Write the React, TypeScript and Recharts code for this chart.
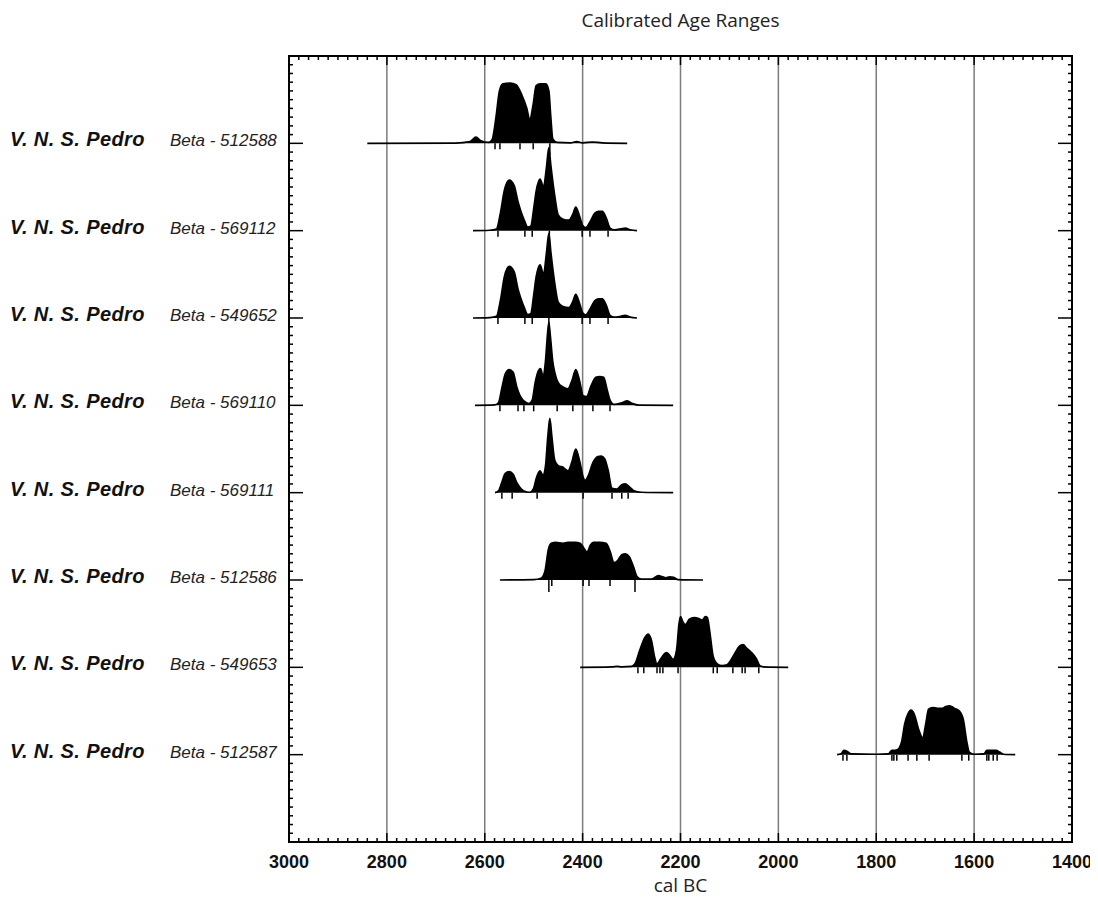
import React from 'react';
import { ComposedChart, Area, Scatter, XAxis, YAxis, CartesianGrid, ReferenceArea } from 'recharts';

const SITE = 'V. N. S. Pedro';
const SAMPLES = [
  'Beta - 512588',
  'Beta - 569112',
  'Beta - 549652',
  'Beta - 569110',
  'Beta - 569111',
  'Beta - 512586',
  'Beta - 549653',
  'Beta - 512587',
];
const ROWS = [1, 2, 3, 4, 5, 6, 7, 8];
const YEAR_TICKS = [3000, 2800, 2600, 2400, 2200, 2000, 1800, 1600, 1400];

// probability curves: [cal BC, density in row heights]
const row1Curve = [
  [2840, 0], [2660, 0.003], [2630, 0.02], [2618, 0.07], [2608, 0.03], [2592, 0.01], [2585, 0.04],
  [2577, 0.3], [2570, 0.6], [2563, 0.68], [2548, 0.69], [2536, 0.67], [2524, 0.55], [2514, 0.4],
  [2508, 0.27], [2501, 0.45], [2495, 0.66], [2487, 0.68], [2475, 0.68], [2469, 0.6], [2465, 0.3],
  [2461, 0.05], [2452, 0.01], [2425, 0.005], [2412, 0.02], [2400, 0.005], [2380, 0.015], [2360, 0.005], [2309, 0],
];
const row2Curve = [
  [2624, 0], [2590, 0.005], [2576, 0.02], [2568, 0.2], [2560, 0.46], [2550, 0.58], [2540, 0.52],
  [2532, 0.33], [2526, 0.22], [2520, 0.13], [2512, 0.04], [2506, 0.05], [2500, 0.25], [2495, 0.45],
  [2487, 0.59], [2480, 0.5], [2474, 0.72], [2469, 0.95], [2465, 0.75], [2457, 0.4], [2450, 0.18],
  [2440, 0.13], [2428, 0.12], [2420, 0.19], [2414, 0.27], [2407, 0.18], [2400, 0.06], [2394, 0.035],
  [2385, 0.1], [2375, 0.2], [2367, 0.22], [2360, 0.22], [2352, 0.15], [2344, 0.03], [2335, 0.01],
  [2322, 0.02], [2313, 0.03], [2303, 0.01], [2289, 0],
];
const row3Curve = [
  [2624, 0], [2590, 0.005], [2576, 0.02], [2568, 0.2], [2560, 0.47], [2550, 0.59], [2540, 0.53],
  [2532, 0.33], [2526, 0.22], [2520, 0.13], [2512, 0.04], [2506, 0.05], [2500, 0.26], [2495, 0.47],
  [2487, 0.61], [2480, 0.5], [2474, 0.74], [2469, 0.97], [2465, 0.76], [2457, 0.4], [2450, 0.18],
  [2440, 0.13], [2428, 0.12], [2420, 0.19], [2414, 0.27], [2407, 0.18], [2400, 0.06], [2394, 0.035],
  [2385, 0.1], [2375, 0.2], [2367, 0.22], [2360, 0.22], [2352, 0.15], [2344, 0.03], [2335, 0.01],
  [2322, 0.02], [2313, 0.03], [2303, 0.01], [2289, 0],
];
const row4Curve = [
  [2620, 0], [2580, 0.005], [2572, 0.03], [2565, 0.2], [2558, 0.36], [2550, 0.41], [2542, 0.38],
  [2535, 0.22], [2528, 0.11], [2520, 0.05], [2510, 0.02], [2503, 0.06], [2497, 0.26], [2490, 0.4],
  [2486, 0.42], [2481, 0.34], [2476, 0.5], [2472, 0.8], [2469, 0.95], [2466, 0.8], [2461, 0.5],
  [2457, 0.38], [2450, 0.26], [2440, 0.21], [2430, 0.19], [2422, 0.28], [2414, 0.41], [2407, 0.3],
  [2399, 0.11], [2392, 0.1], [2383, 0.22], [2373, 0.32], [2365, 0.33], [2357, 0.32], [2350, 0.18],
  [2344, 0.06], [2335, 0.01], [2320, 0.03], [2309, 0.05], [2298, 0.02], [2285, 0.003], [2215, 0],
];
const row5Curve = [
  [2579, 0], [2572, 0.02], [2565, 0.12], [2558, 0.22], [2550, 0.24], [2542, 0.21], [2535, 0.12],
  [2528, 0.06], [2520, 0.02], [2508, 0.005], [2500, 0.05], [2495, 0.16], [2487, 0.25], [2481, 0.2],
  [2476, 0.3], [2471, 0.65], [2467, 0.85], [2463, 0.65], [2457, 0.37], [2450, 0.31], [2440, 0.29],
  [2430, 0.25], [2422, 0.35], [2414, 0.5], [2406, 0.36], [2399, 0.18], [2395, 0.14], [2388, 0.2],
  [2380, 0.33], [2370, 0.41], [2362, 0.42], [2355, 0.39], [2348, 0.26], [2340, 0.05], [2330, 0.04],
  [2320, 0.09], [2313, 0.1], [2305, 0.07], [2295, 0.02], [2280, 0.005], [2215, 0],
];
const row6Curve = [
  [2569, 0], [2500, 0.005], [2485, 0.02], [2477, 0.1], [2470, 0.35], [2464, 0.42], [2455, 0.43],
  [2440, 0.42], [2430, 0.43], [2415, 0.43], [2405, 0.42], [2398, 0.37], [2391, 0.32], [2384, 0.4],
  [2378, 0.43], [2365, 0.43], [2352, 0.42], [2344, 0.33], [2336, 0.2], [2329, 0.22], [2320, 0.29],
  [2313, 0.3], [2305, 0.27], [2296, 0.15], [2289, 0.04], [2280, 0.01], [2260, 0.01], [2245, 0.05],
  [2238, 0.04], [2230, 0.025], [2222, 0.035], [2214, 0.03], [2205, 0.005], [2154, 0],
];
const row7Curve = [
  [2405, 0], [2340, 0.005], [2330, 0.012], [2320, 0.005], [2300, 0.01], [2293, 0.04], [2283, 0.2],
  [2273, 0.34], [2266, 0.38], [2259, 0.3], [2253, 0.12], [2248, 0.04], [2240, 0.1], [2232, 0.16],
  [2228, 0.17], [2220, 0.12], [2215, 0.09], [2208, 0.2], [2203, 0.5], [2200, 0.58], [2195, 0.52],
  [2190, 0.49], [2182, 0.55], [2172, 0.57], [2163, 0.56], [2156, 0.54], [2149, 0.58], [2145, 0.57],
  [2140, 0.4], [2133, 0.12], [2125, 0.04], [2115, 0.02], [2105, 0.03], [2090, 0.15], [2080, 0.24],
  [2072, 0.26], [2065, 0.22], [2055, 0.17], [2045, 0.1], [2038, 0.02], [2030, 0.005], [1980, 0],
];
const row8Curve = [
  [1880, 0], [1872, 0.01], [1866, 0.05], [1860, 0.04], [1852, 0.01], [1800, 0.005], [1775, 0.01],
  [1768, 0.05], [1762, 0.05], [1756, 0.06], [1748, 0.15], [1742, 0.35], [1735, 0.47], [1729, 0.51],
  [1722, 0.46], [1714, 0.3], [1705, 0.19], [1699, 0.35], [1693, 0.52], [1685, 0.54], [1675, 0.53],
  [1665, 0.53], [1658, 0.55], [1650, 0.56], [1640, 0.53], [1630, 0.5], [1622, 0.4], [1615, 0.15],
  [1610, 0.03], [1600, 0.005], [1580, 0.01], [1574, 0.05], [1565, 0.05], [1555, 0.05], [1548, 0.03],
  [1540, 0.005], [1516, 0],
];
const CURVES = [row1Curve, row2Curve, row3Curve, row4Curve, row5Curve, row6Curve, row7Curve, row8Curve];

// range boundary marks under each baseline
const row1Marks = [2579, 2569, 2528, 2501];
const row2Marks = [2573, 2518, 2503, 2401, 2385, 2348];
const row3Marks = [2573, 2518, 2503, 2401, 2385, 2348];
const row4Marks = [2569, 2532, 2520, 2500, 2452, 2420, 2379, 2344];
const row5Marks = [2565, 2544, 2493, 2399, 2340, 2320, 2307];
const row6Marks = [2463, 2399, 2387, 2344];
const row7Marks = [2287, 2275, 2248, 2242, 2236, 2205, 2133, 2125, 2093, 2074, 2068, 2040];
const row8Marks = [1868, 1860, 1768, 1764, 1758, 1735, 1717, 1692, 1625, 1611, 1574, 1570, 1561, 1553];
const MARKS = [row1Marks, row2Marks, row3Marks, row4Marks, row5Marks, row6Marks, row7Marks, row8Marks];
const longMarks = [[1, 2467], [2, 2468], [3, 2469], [6, 2469], [6, 2293]];

const xMinor = Array.from({ length: 81 }, (_, i) => 1400 + i * 20).filter((v) => v % 200 !== 0);
const yMinor = Array.from({ length: 91 }, (_, i) => i / 10).filter((v) => v % 1 !== 0);

const bottomMinor = xMinor.map((x) => ({ x, y: 9 }));
const topMinor = xMinor.map((x) => ({ x, y: 0 }));
const bottomMajor = YEAR_TICKS.map((x) => ({ x, y: 9 }));
const topMajor = YEAR_TICKS.map((x) => ({ x, y: 0 }));
const leftMinor = yMinor.map((y) => ({ x: 3000, y }));
const rightMinor = yMinor.map((y) => ({ x: 1400, y }));
const leftMajor = ROWS.map((y) => ({ x: 3000, y }));
const rightMajor = ROWS.map((y) => ({ x: 1400, y }));
const rangeMarks = MARKS.flatMap((m, i) => m.map((x) => ({ x, y: ROWS[i] })));
const longRangeMarks = longMarks.map(([r, x]) => ({ x, y: r }));

const vTick = (len: number) => (p: any) => (
  <line x1={p.cx} y1={p.cy} x2={p.cx} y2={p.cy + len} stroke="#000" strokeWidth={1.5} />
);
const hTick = (len: number) => (p: any) => (
  <line x1={p.cx} y1={p.cy} x2={p.cx + len} y2={p.cy} stroke="#000" strokeWidth={1.5} />
);

const ARIAL = '"Liberation Sans", Arial, sans-serif';

function RowLabel(props: any) {
  const { y, payload } = props;
  const sample = SAMPLES[payload.value - 1];
  return (
    <g>
      <text x={2} y={y + 3} fontSize={20} fontWeight="bold" fontStyle="italic" fontFamily={ARIAL} fill="#111" letterSpacing={0.4}>
        {SITE}
      </text>
      <text x={162} y={y + 3} fontSize={17} fontStyle="italic" fontFamily={ARIAL} fill="#222">
        {sample}
      </text>
    </g>
  );
}

export default function App() {
  return (
    <div style={{ position: 'relative', width: 1082, height: 890 }}>
      <style>{'.recharts-surface { overflow: visible; }'}</style>
      <div
        style={{
          position: 'absolute', left: 281, width: 783, top: 2, textAlign: 'center',
          fontFamily: '"Open Sans", sans-serif', fontSize: 19, lineHeight: '20px', color: '#222',
        }}
      >
        Calibrated Age Ranges
      </div>
      <ComposedChart width={1082} height={890} margin={{ top: 48, right: 18, bottom: 0, left: 0 }}>
        <CartesianGrid vertical horizontal={false} stroke="#7c7c7c" strokeWidth={1.5} />
        <XAxis
          dataKey="x"
          type="number"
          domain={[1400, 3000]}
          reversed
          allowDataOverflow
          ticks={YEAR_TICKS}
          height={56}
          axisLine={false}
          tickLine={false}
          tickSize={0}
          tickMargin={13}
          tick={{ fontSize: 18, fontWeight: 'bold', fill: '#111', fontFamily: ARIAL }}
        />
        <YAxis
          dataKey="y"
          type="number"
          domain={[0, 9]}
          reversed
          allowDataOverflow
          ticks={ROWS}
          width={281}
          axisLine={false}
          tickLine={false}
          tick={<RowLabel />}
        />
        {CURVES.map((c, i) => (
          <Area
            key={i}
            data={c.map(([x, d]) => ({ x, y: ROWS[i] - d }))}
            dataKey="y"
            baseValue={ROWS[i]}
            type="monotone"
            stroke="#000"
            strokeWidth={1.7}
            fill="#000"
            fillOpacity={1}
            dot={false}
            activeDot={false}
            isAnimationActive={false}
          />
        ))}
        <Scatter data={rangeMarks} dataKey="y" shape={vTick(6)} isAnimationActive={false} />
        <Scatter data={longRangeMarks} dataKey="y" shape={vTick(12)} isAnimationActive={false} />
        <Scatter data={bottomMinor} dataKey="y" shape={vTick(-4)} isAnimationActive={false} />
        <Scatter data={bottomMajor} dataKey="y" shape={vTick(-9)} isAnimationActive={false} />
        <Scatter data={topMinor} dataKey="y" shape={vTick(4)} isAnimationActive={false} />
        <Scatter data={topMajor} dataKey="y" shape={vTick(9)} isAnimationActive={false} />
        <Scatter data={leftMinor} dataKey="y" shape={hTick(4)} isAnimationActive={false} />
        <Scatter data={rightMinor} dataKey="y" shape={hTick(-4)} isAnimationActive={false} />
        <Scatter data={leftMajor} dataKey="y" shape={hTick(14)} isAnimationActive={false} />
        <Scatter data={rightMajor} dataKey="y" shape={hTick(-14)} isAnimationActive={false} />
        <ReferenceArea x1={3000} x2={1400} y1={0} y2={9} fill="none" stroke="#000" strokeWidth={2} />
      </ComposedChart>
      <div
        style={{
          position: 'absolute', left: 281, width: 783, top: 867, textAlign: 'center',
          fontFamily: '"Open Sans", sans-serif', fontSize: 19, lineHeight: '20px', color: '#222',
        }}
      >
        cal BC
      </div>
    </div>
  );
}
